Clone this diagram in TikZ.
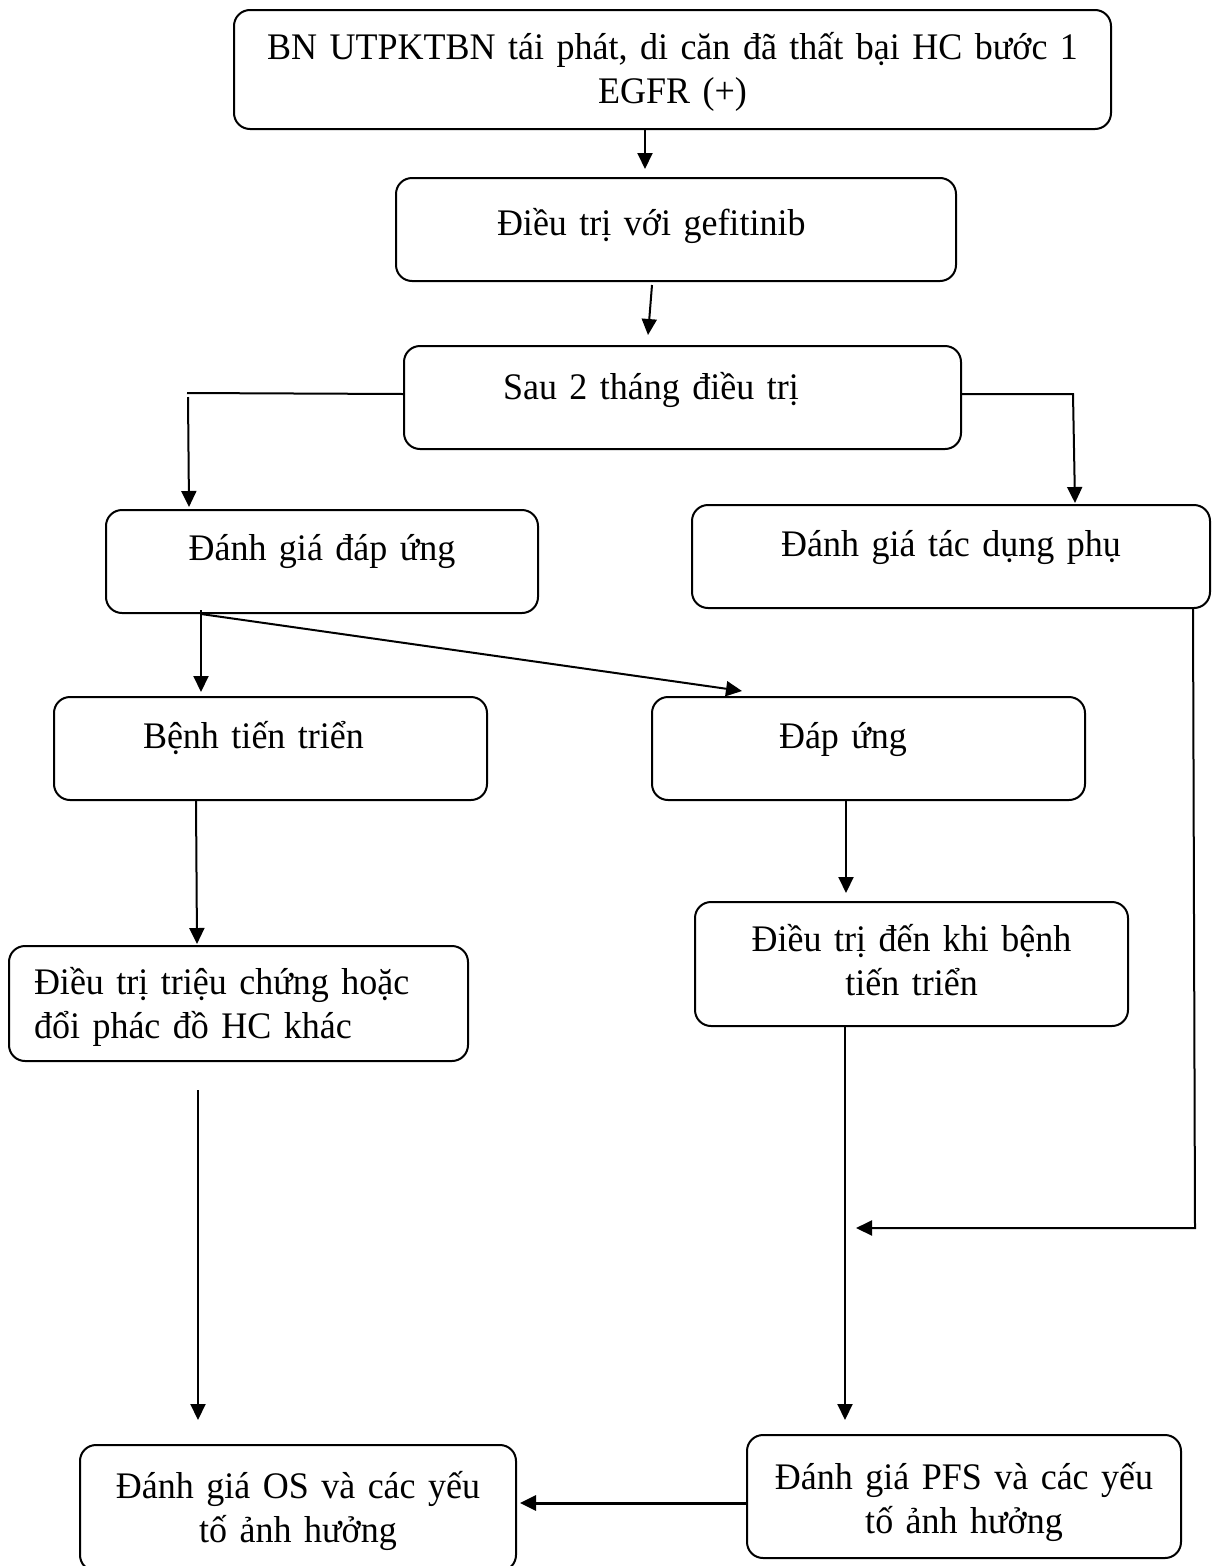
\documentclass[tikz,border=0pt]{standalone}
\usepackage{fontspec}
\setmainfont{Liberation Serif}[FakeStretch=0.96]
\usetikzlibrary{arrows.meta,calc}
\begin{document}
\begin{tikzpicture}[x=1pt,y=-1pt,
  box/.style={draw, line width=2pt, rounded corners=16pt, inner sep=0pt, anchor=north west,
    font=\fontsize{37.5}{44}\selectfont},
  arr/.style={line width=2pt, -{Triangle[width=15pt,length=16pt]}},
  ln/.style={line width=2pt}]
\useasboundingbox (0,0) rectangle (1211,1566);

\node[box, minimum width=877pt, minimum height=119pt, text width=857pt, align=center, text height=0pt, text depth=21pt] (b1) at (233,9)
  {BN UTPKTBN tái phát, di căn đã thất bại HC bước 1\\EGFR (+)};
\node[box, minimum width=560pt, minimum height=103pt, text width=358pt, align=left, text height=11pt, text depth=0pt] (b2) at (395,177)
  {Điều trị với gefitinib};
\node[box, minimum width=557pt, minimum height=103pt, text width=359pt, align=left, text height=3pt, text depth=0pt] (b3) at (403,345)
  {Sau 2 tháng điều trị};
\node[box, minimum width=432pt, minimum height=103pt, text width=412pt, align=center, text height=0pt, text depth=3pt] (b4) at (105,509)
  {Đánh giá đáp ứng};
\node[box, minimum width=518pt, minimum height=103pt, text width=498pt, align=center, text height=0pt, text depth=1pt] (b5) at (691,504)
  {Đánh giá tác dụng phụ};
\node[box, minimum width=433pt, minimum height=103pt, text width=255pt, align=left, text height=0pt, text depth=1pt] (b6) at (53,696)
  {Bệnh tiến triển};
\node[box, minimum width=433pt, minimum height=103pt, text width=179pt, align=left, text height=0pt, text depth=1pt] (b7) at (651,696)
  {Đáp ứng};
\node[box, minimum width=459pt, minimum height=115pt, text width=409pt, align=left, text height=0pt, text depth=19pt] (b8) at (8,945)
  {Điều trị triệu chứng hoặc\\đổi phác đồ HC khác};
\node[box, minimum width=433pt, minimum height=124pt, text width=413pt, align=center, text height=0pt, text depth=26pt] (b9) at (694,901)
  {Điều trị đến khi bệnh\\tiến triển};
\node[box, minimum width=436pt, minimum height=126pt, text width=416pt, align=center, text height=0pt, text depth=20pt] (b10) at (79,1444)
  {Đánh giá OS và các yếu\\tố ảnh hưởng};
\node[box, minimum width=434pt, minimum height=123pt, text width=414pt, align=center, text height=0pt, text depth=15pt] (b11) at (746,1434)
  {Đánh giá PFS và các yếu\\tố ảnh hưởng};

\coordinate (L1) at (187,393);
\coordinate (R1) at (1073,394);
\coordinate (R2) at (1195,1228);
\coordinate (T10) at (856,1228);
\coordinate (S11) at (198,1090);

\draw[arr] (b1.south -| 645,0) -- ($(b2.north -| 645,0)+(0,-8)$);
\draw[arr] ($(b2.south -| 652,0)+(0,3)$) -- ($(b3.north -| 648,0)+(0,-10)$);
\draw[ln] ($(b3.west)+(0,-3.5)$) -- (L1);
\draw[arr] ($(L1)+(1,4)$) -- ($(b4.north -| 189,0)+(0,-2)$);
\draw[arr] ($(b3.east)+(0,-3.5)$) -- (R1) -- ($(b5.north -| 1075,0)+(0,-1)$);
\draw[arr] ($(b4.south -| 201,0)+(0,-4)$) -- ($(b6.north -| 201,0)+(0,-4)$);
\draw[arr] (b4.south -| 201,0) -- ($(b7.north -| 742,0)+(0,-5)$);
\draw[arr] (b6.south -| 196,0) -- ($(b8.north -| 197,0)+(0,-1)$);
\draw[arr] (b7.south -| 846,0) -- ($(b9.north -| 846,0)+(0,-8)$);
\draw[arr] (b9.south -| 845,0) -- ($(b11.north -| 845,0)+(0,-14)$);
\draw[arr] (b5.south -| 1193,0) -- (R2) -- (T10);
\draw[arr] (S11) -- ($(b10.north -| 198,0)+(0,-24)$);
\draw[arr, line width=3pt] (b11.west |- 0,1503) -- ($(b10.east |- 0,1503)+(3,0)$);
\end{tikzpicture}
\end{document}
